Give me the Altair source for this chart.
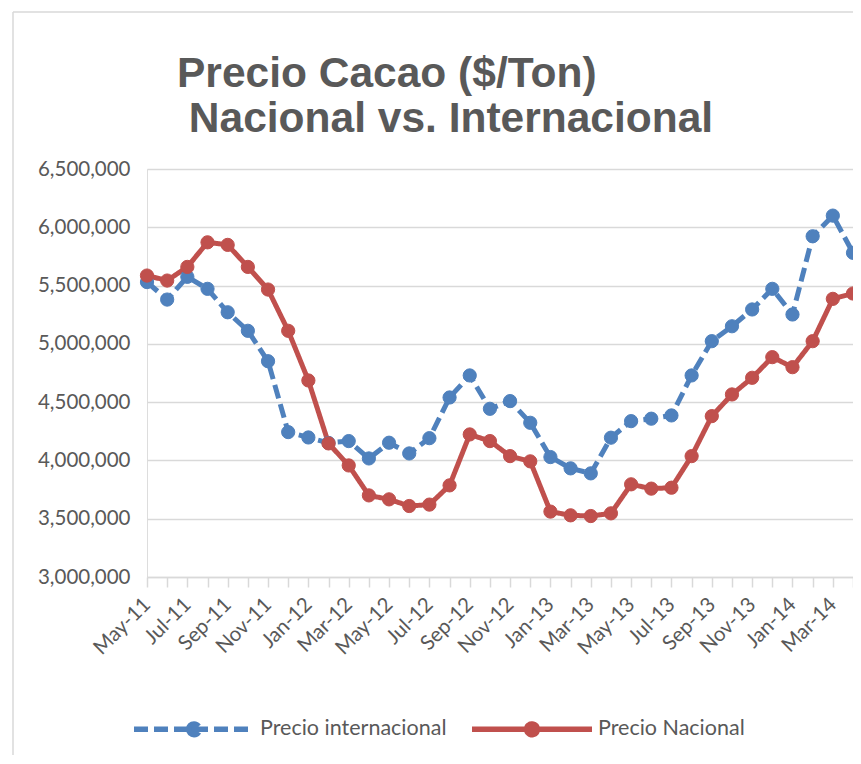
import altair as alt
import pandas as pd

months = ['May-11', 'Jun-11', 'Jul-11', 'Aug-11', 'Sep-11', 'Oct-11', 'Nov-11', 'Dec-11',
          'Jan-12', 'Feb-12', 'Mar-12', 'Apr-12', 'May-12', 'Jun-12', 'Jul-12', 'Aug-12',
          'Sep-12', 'Oct-12', 'Nov-12', 'Dec-12', 'Jan-13', 'Feb-13', 'Mar-13', 'Apr-13',
          'May-13', 'Jun-13', 'Jul-13', 'Aug-13', 'Sep-13', 'Oct-13', 'Nov-13', 'Dec-13',
          'Jan-14', 'Feb-14', 'Mar-14', 'Apr-14']
shown_labels = months[::2]

precio_internacional = [5530000, 5380000, 5575000, 5472000, 5271000, 5112000, 4851000, 4243000,
                        4197000, 4150000, 4166000, 4017000, 4152000, 4060000, 4191000, 4540000,
                        4729000, 4443000, 4509000, 4323000, 4029000, 3932000, 3889000, 4195000,
                        4337000, 4358000, 4386000, 4729000, 5023000, 5151000, 5295000, 5472000,
                        5252000, 5923000, 6100000, 5781000]
precio_nacional = [5586000, 5543000, 5660000, 5871000, 5849000, 5660000, 5466000, 5112000,
                   4686000, 4146000, 3957000, 3700000, 3666000, 3609000, 3621000, 3786000,
                   4223000, 4166000, 4037000, 3992000, 3561000, 3529000, 3523000, 3546000,
                   3795000, 3758000, 3766000, 4037000, 4380000, 4566000, 4709000, 4886000,
                   4800000, 5023000, 5386000, 5432000]

series_names = ['Precio internacional', 'Precio Nacional']
series_colors = ['#4F81BD', '#C0504D']
y_ticks = [3000000, 3500000, 4000000, 4500000, 5000000, 5500000, 6000000, 6500000]

rows = []
for name, vals in zip(series_names, [precio_internacional, precio_nacional]):
    for m, v in zip(months, vals):
        rows.append({'Mes': m, 'Precio': v, 'Serie': name})
df = pd.DataFrame(rows)

label_list = "[" + ",".join("'" + s + "'" for s in shown_labels) + "]"

x_enc = alt.X('Mes:O', sort=months, title=None,
              scale=alt.Scale(type='point', padding=0),
              axis=alt.Axis(labelExpr="indexof(" + label_list + ", datum.value) >= 0 ? datum.value : ''",
                            labelAngle=-45, labelAlign='right', labelBaseline='middle',
                            labelPadding=14, labelOverlap=False, labelFont='Lato',
                            labelFontSize=20.5, labelColor='#595959',
                            domainColor='#D9D9D9', domainWidth=1.5,
                            tickColor='#D9D9D9', tickWidth=1.5, tickSize=10, grid=False))
y_enc = alt.Y('Precio:Q', title=None,
              scale=alt.Scale(domain=[3000000, 6500000], nice=False, zero=False),
              axis=alt.Axis(values=y_ticks, format=',.0f', domain=False, ticks=False, tickSize=0,
                            labelPadding=17, labelFont='Lato', labelFontSize=20.5,
                            labelColor='#595959', grid=True, gridColor='#D9D9D9', gridWidth=1.5))

circle_r = 0.09
sym_path = ("M-1,0 L1,0 M-%g,0 A%g,%g 0 1,0 %g,0 A%g,%g 0 1,0 -%g,0 Z"
            % (circle_r, circle_r, circle_r, circle_r, circle_r, circle_r, circle_r))

leg = alt.Legend(title=None, orient='none', legendX=-16, legendY=497, direction='horizontal',
                 symbolType=sym_path, symbolSize=14400, symbolStrokeWidth=5.5,
                 labelFont='Lato', labelFontSize=21.5, labelColor='#595959', labelLimit=400,
                 labelOffset=3, columnPadding=14, padding=0)

stroke_scale = alt.Scale(domain=series_names, range=series_colors)
dash_scale = alt.Scale(domain=series_names, range=[[14, 6], [1, 0]])

lines = alt.Chart(df).mark_line(strokeWidth=5).encode(
    x=x_enc, y=y_enc,
    stroke=alt.Stroke('Serie:N', scale=stroke_scale, legend=leg, sort=series_names),
    strokeDash=alt.StrokeDash('Serie:N', scale=dash_scale, legend=leg, sort=series_names),
)
points = alt.Chart(df).mark_point(filled=True, size=175, strokeWidth=1, opacity=1).encode(
    x=x_enc, y=y_enc,
    fill=alt.Fill('Serie:N', scale=stroke_scale, legend=leg, sort=series_names),
    stroke=alt.Stroke('Serie:N', scale=stroke_scale, legend=leg, sort=series_names),
)

frame_df = pd.DataFrame({'a': [0]})
frame_top = alt.Chart(frame_df).mark_rule(color='#D9D9D9', strokeWidth=1.5).encode(
    x=alt.value(-134), x2=alt.value(706), y=alt.value(-157))
frame_left = alt.Chart(frame_df).mark_rule(color='#D9D9D9', strokeWidth=1.5).encode(
    x=alt.value(-134), y=alt.value(-157), y2=alt.value(586))

chart = alt.layer(frame_top, frame_left, lines, points).properties(
    width=706, height=408,
    autosize=alt.AutoSizeParams(type='none'),
    padding={'left': 139, 'top': 161, 'right': 0, 'bottom': 179},
    title=alt.TitleParams(
        text=['Precio Cacao ($/Ton)', '\u200b\u00a0Nacional vs. Internacional'],
        font='Liberation Sans', fontSize=42.5, fontWeight='bold', color='#595959',
        anchor='start', frame='group', dx=30, dy=154, lineHeight=45, offset=25),
).configure_view(stroke=None).configure(background='white')

chart.save('out.html', embed_options={'renderer': 'svg', 'actions': False})
